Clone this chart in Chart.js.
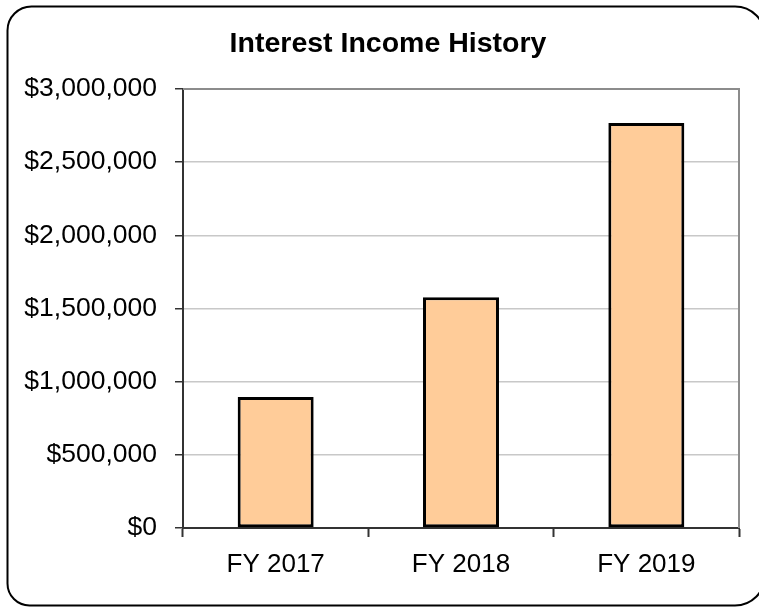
<!DOCTYPE html>
<html>
<head>
<meta charset="utf-8">
<script src="https://cdn.jsdelivr.net/npm/chart.js@4"></script>
<style>
  html, body { margin: 0; padding: 0; background: #fff; }
  #wrap { position: relative; width: 759px; height: 607px; }
</style>
</head>
<body>
<div id="wrap"><canvas id="c" width="759" height="607"></canvas></div>
<script>
const categories = ["FY 2017", "FY 2018", "FY 2019"];
const interestIncome = [895000, 1577000, 2768000];
const yTicks = [0, 500000, 1000000, 1500000, 2000000, 2500000, 3000000];
const chartTitle = "Interest Income History";

const FONT = "'Liberation Sans', Arial, sans-serif";

const framePlugin = {
  id: 'frame',
  beforeDraw(chart) {
    const ctx = chart.ctx;
    ctx.save();
    ctx.fillStyle = '#fff';
    ctx.fillRect(0, 0, chart.width, chart.height);
    ctx.restore();
  },
  afterDraw(chart) {
    const ctx = chart.ctx;
    const a = chart.chartArea;
    ctx.save();
    ctx.strokeStyle = '#8c8c8c';
    ctx.lineWidth = 2;
    ctx.beginPath();
    ctx.moveTo(a.left, a.top);
    ctx.lineTo(a.right, a.top);
    ctx.lineTo(a.right, a.bottom);
    ctx.stroke();
    ctx.strokeStyle = '#000';
    ctx.lineWidth = 2;
    ctx.beginPath();
    ctx.roundRect(7.5, 6.5, 757.5, 599, [24, 30, 30, 22]);
    ctx.stroke();
    // chart title
    ctx.fillStyle = '#000';
    ctx.font = "bold 28.5px " + FONT;
    ctx.textAlign = 'center';
    ctx.textBaseline = 'middle';
    ctx.fillText(chartTitle, 388, 44);
    ctx.restore();
  }
};

new Chart(document.getElementById('c'), {
  type: 'bar',
  data: {
    labels: categories,
    datasets: [{
      data: interestIncome,
      backgroundColor: '#FFCC99',
      borderColor: '#000',
      borderWidth: 3,
      borderSkipped: false,
      barPercentage: 0.41,
      categoryPercentage: 1.0
    }]
  },
  options: {
    responsive: false,
    animation: false,
    devicePixelRatio: 1,
    layout: { padding: { left: 0, right: 20, top: 89, bottom: 0 } },
    plugins: {
      legend: { display: false },
      tooltip: { enabled: false },
      title: { display: false }
    },
    scales: {
      x: {
        grid: {
          offset: true,
          drawOnChartArea: false,
          drawTicks: true,
          tickLength: 9,
          tickColor: '#333',
          tickWidth: 2
        },
        border: { color: '#333', width: 2 },
        ticks: {
          color: '#000',
          padding: 12,
          font: { family: FONT, size: 26 }
        },
        afterFit(scale) { scale.height = 607 - 528; }
      },
      y: {
        min: 0,
        max: 3000000,
        afterBuildTicks(scale) { scale.ticks = yTicks.map(v => ({ value: v })); },
        grid: {
          color: '#c8c8c8',
          lineWidth: 1.5,
          drawTicks: true,
          tickLength: 8,
          tickColor: '#333',
          tickWidth: 1.5
        },
        border: { color: '#333', width: 2 },
        ticks: {
          color: '#000',
          padding: 18,
          font: { family: FONT, size: 26.5 },
          callback: v => '$' + Number(v).toLocaleString('en-US')
        },
        afterFit(scale) { scale.width = 183; }
      }
    }
  },
  plugins: [framePlugin]
});
</script>
</body>
</html>
